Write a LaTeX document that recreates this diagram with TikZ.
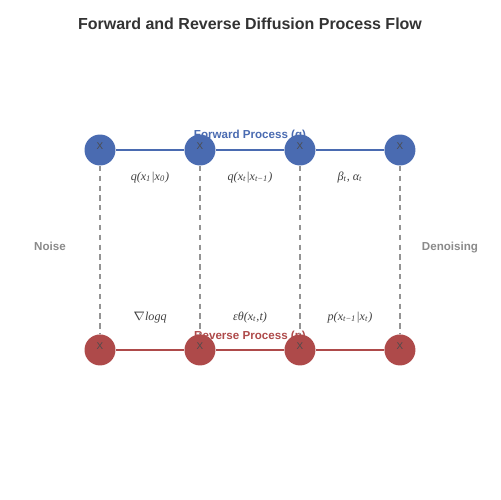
\documentclass[tikz,border=0pt]{standalone}
\usepackage{fontspec}
\setmainfont{Liberation Serif}
\setsansfont{Liberation Sans}
\usetikzlibrary{positioning}
\definecolor{fwdblue}{HTML}{4A6BB1}
\definecolor{revred}{HTML}{AE4A4A}
\definecolor{titlegray}{HTML}{333333}
\definecolor{sidegray}{HTML}{8A8A8A}
\newcommand{\sub}[1]{\textsubscript{#1}}
\begin{document}
\begin{tikzpicture}[x=0.02cm, y=-0.02cm, node distance=2cm, on grid,
		state/.style={circle, minimum size=0.62cm, inner sep=0pt, text=black!70,
		font=\sffamily\fontsize{5.6}{6}\selectfont, text height=3.8pt, text depth=4.3pt},
		fwd/.style={state, fill=fwdblue},
		rev/.style={state, fill=revred},
		proc/.style={font=\sffamily\bfseries\fontsize{6.6}{8}\selectfont},
		side/.style={font=\sffamily\bfseries\fontsize{6.6}{8}\selectfont, text=sidegray, anchor=base},
		eq/.style={font=\itshape\fontsize{6.9}{8}\selectfont, text=black!75, anchor=base},
		link/.style={line width=1.1pt},
		drop/.style={draw=black!42, line width=0.85pt, dash pattern=on 3pt off 2.6pt} ]
	\useasboundingbox (0,0) rectangle (500,500);
	\node[font=\sffamily\bfseries\fontsize{9.1}{10}\selectfont, text=titlegray] (title) at (250,24) {Forward and Reverse Diffusion Process Flow};
	% process names sit under the circles
	\node[proc, text=fwdblue] (fname) at (250,136) {Forward Process (q)};
	\node[proc, text=revred] (rname) at (250,336) {Reverse Process (p)};
	% forward chain
	\node[fwd] (f0) at (100,150) {X};
	\node[fwd, right=of f0] (f1) {X};
	\node[fwd, right=of f1] (f2) {X};
	\node[fwd, right=of f2] (f3) {X};
	% reverse chain
	\node[rev, below=4cm of f0] (r0) {X};
	\node[rev, right=of r0] (r1) {X};
	\node[rev, right=of r1] (r2) {X};
	\node[rev, right=of r2] (r3) {X};
	\draw[link, fwdblue] (f0) -- (f1) (f1) -- (f2) (f2) -- (f3);
	\draw[link, revred] (r0) -- (r1) (r1) -- (r2) (r2) -- (r3);
	\draw[drop] (f0) -- (r0) (f1) -- (r1) (f2) -- (r2) (f3) -- (r3);
	\node[eq] (q1) at (150,180) {q(x\sub{1}|x\sub{0})};
	\node[eq] (q2) at (250,180) {q(x\sub{t}|x\sub{t−1})};
	\node[eq] (ab) at (350,180) {β\sub{t}, α\sub{t}};
	\node[eq] (sc) at (150,320) {$\nabla$logq};
	\node[eq] (ep) at (250,320) {εθ(x\sub{t},t)};
	\node[eq] (pt) at (350,320) {p(x\sub{t−1}|x\sub{t})};
	\node[side] (noise) at (50,250) {Noise};
	\node[side] (denoise) at (450,250) {Denoising};
\end{tikzpicture}
\end{document}
